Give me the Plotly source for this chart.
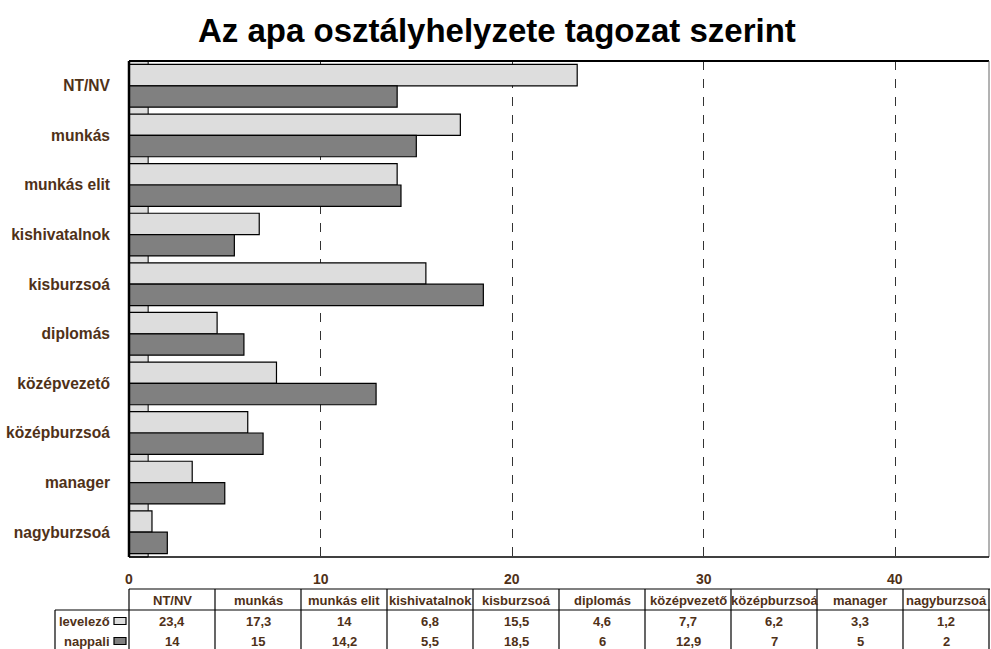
import plotly.graph_objects as go

categories = ["NT/NV", "munkás", "munkás elit", "kishivatalnok", "kisburzsoá",
              "diplomás", "középvezető", "középburzsoá", "manager", "nagyburzsoá"]
levelezo = [23.4, 17.3, 14, 6.8, 15.5, 4.6, 7.7, 6.2, 3.3, 1.2]
nappali = [14, 15, 14.2, 5.5, 18.5, 6, 12.9, 7, 5, 2]
series_names = ["levelező", "nappali"]
tick_vals = [0, 10, 20, 30, 40]
title_text = "Az apa osztályhelyzete tagozat szerint"

FONT = "Liberation Sans, Arial, sans-serif"
BROWN = "#4f3118"
LIGHT = "#dddddd"
DARK = "#808080"

W_FIG, H_FIG = 991, 649
L, R, T, B = 129, 989, 61, 557
PW, PH = R - L, B - T


def xp(px):
    return (px - L) / PW


def yp(py):
    return (B - py) / PH


def fmt(v):
    s = ("%g" % v)
    return s.replace(".", ",")


fig = go.Figure()
fig.add_trace(go.Bar(y=categories, x=levelezo, orientation="h", name=series_names[0],
                     marker=dict(color=LIGHT, line=dict(color="black", width=1.2))))
fig.add_trace(go.Bar(y=categories, x=nappali, orientation="h", name=series_names[1],
                     marker=dict(color=DARK, line=dict(color="black", width=1.2))))

shapes = []
# light "floor" strip behind bars
shapes.append(dict(type="rect", xref="x", yref="paper", x0=0, x1=1, y0=0, y1=1,
                   fillcolor=LIGHT, line=dict(color="black", width=1), layer="below"))
# plot frame
shapes.append(dict(type="line", xref="paper", yref="paper", x0=0, x1=1, y0=1, y1=1,
                   line=dict(color="black", width=2)))
shapes.append(dict(type="line", xref="paper", yref="paper", x0=1, x1=1, y0=0, y1=1,
                   line=dict(color="#666666", width=1)))
shapes.append(dict(type="line", xref="paper", yref="paper", x0=0, x1=1, y0=0, y1=0,
                   line=dict(color="black", width=1.5)))
shapes.append(dict(type="line", xref="paper", yref="paper", x0=0, x1=0, y0=0, y1=1,
                   line=dict(color="black", width=2.5)))

# data table
n = len(categories)
col_w = PW / n
tab_top, hdr_bot, tab_bot = 589, 610, 652
shapes.append(dict(type="line", xref="paper", yref="paper", x0=xp(L), x1=xp(R + 1),
                   y0=yp(tab_top), y1=yp(tab_top), line=dict(color="black", width=1.2)))
shapes.append(dict(type="line", xref="paper", yref="paper", x0=xp(55), x1=xp(R + 1),
                   y0=yp(hdr_bot), y1=yp(hdr_bot), line=dict(color="black", width=1.2)))
shapes.append(dict(type="line", xref="paper", yref="paper", x0=xp(55), x1=xp(55),
                   y0=yp(hdr_bot), y1=yp(tab_bot), line=dict(color="black", width=1.2)))
for i in range(n + 1):
    x = L + i * col_w
    shapes.append(dict(type="line", xref="paper", yref="paper", x0=xp(x), x1=xp(x),
                       y0=yp(tab_top), y1=yp(tab_bot), line=dict(color="black", width=1.2)))

annotations = []
annotations.append(dict(text="<b>" + title_text + "</b>", xref="paper", yref="paper",
                        x=xp(497), y=yp(31), showarrow=False, xanchor="center", yanchor="middle",
                        font=dict(family=FONT, size=33, color="black")))
# x tick labels
for v in tick_vals:
    annotations.append(dict(text="<b>%d</b>" % v, xref="x", yref="paper", x=v, y=yp(579),
                            showarrow=False, xanchor="center", yanchor="middle",
                            font=dict(family=FONT, size=14, color=BROWN)))
row_y = [600, 621, 641]
TS = 13
for i, c in enumerate(categories):
    cx = L + (i + 0.5) * col_w
    annotations.append(dict(text="<b>%s</b>" % c, xref="paper", yref="paper", x=xp(cx), y=yp(row_y[0]),
                            showarrow=False, xanchor="center", yanchor="middle",
                            font=dict(family=FONT, size=TS, color=BROWN)))
    annotations.append(dict(text="<b>%s</b>" % fmt(levelezo[i]), xref="paper", yref="paper", x=xp(cx),
                            y=yp(row_y[1]), showarrow=False, xanchor="center", yanchor="middle",
                            font=dict(family=FONT, size=TS, color=BROWN)))
    annotations.append(dict(text="<b>%s</b>" % fmt(nappali[i]), xref="paper", yref="paper", x=xp(cx),
                            y=yp(row_y[2]), showarrow=False, xanchor="center", yanchor="middle",
                            font=dict(family=FONT, size=TS, color=BROWN)))
for name, col, ry in [(series_names[0], LIGHT, row_y[1]), (series_names[1], DARK, row_y[2])]:
    annotations.append(dict(text="<b>%s</b>" % name, xref="paper", yref="paper", x=xp(112), y=yp(ry),
                            showarrow=False, xanchor="right", yanchor="middle",
                            font=dict(family=FONT, size=TS, color=BROWN)))
    shapes.append(dict(type="rect", xref="paper", yref="paper", x0=xp(114), x1=xp(126),
                       y0=yp(ry + 3.5), y1=yp(ry - 3.5), fillcolor=col,
                       line=dict(color="black", width=1.2)))

fig.update_layout(
    width=W_FIG, height=H_FIG,
    margin=dict(l=L, r=W_FIG - R, t=T, b=H_FIG - B, pad=0),
    paper_bgcolor="white", plot_bgcolor="white",
    barmode="group", bargap=0.14, bargroupgap=0,
    showlegend=False,
    font=dict(family=FONT, color=BROWN),
    xaxis=dict(range=[0, 44.9], tickvals=tick_vals, showticklabels=False,
               showgrid=True, griddash="dash", gridcolor="#333333", gridwidth=1,
               zeroline=False, showline=False, fixedrange=True),
    yaxis=dict(autorange="reversed", showgrid=False, zeroline=False, showline=False,
               tickfont=dict(family=FONT, size=15.6, color=BROWN),
               ticks="", ticklabelstandoff=18, fixedrange=True),
    shapes=shapes, annotations=annotations,
)
fig.update_yaxes(tickvals=categories, ticktext=["<b>%s</b>" % c for c in categories])

fig.write_html("out.html", config={"displayModeBar": False},
               post_script="document.body.style.margin='0';document.body.style.padding='0';")
